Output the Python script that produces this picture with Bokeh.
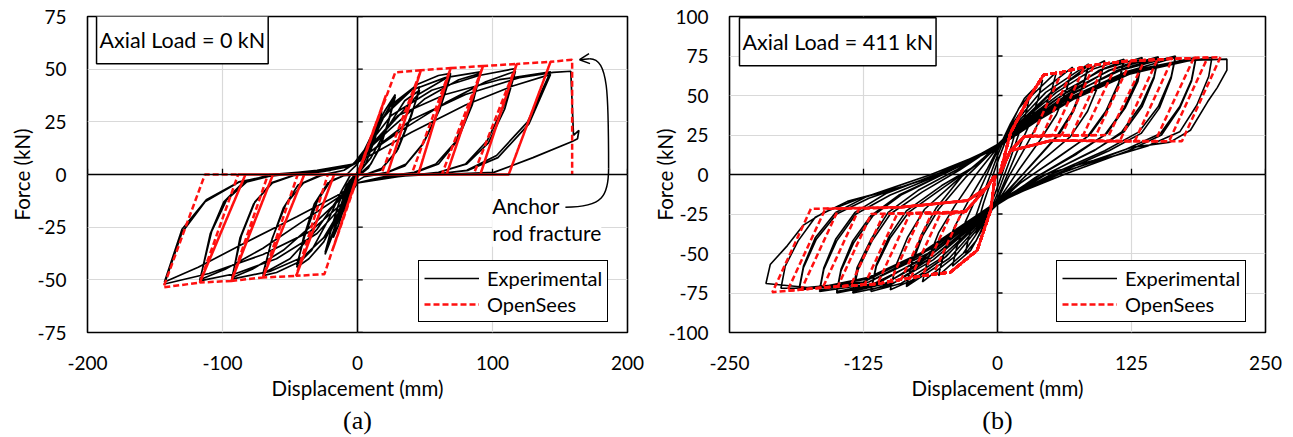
from bokeh.plotting import figure
from bokeh.models import (Range1d, FixedTicker, Span, Legend, LegendItem, Label,
                          Title, Arrow, OpenHead)
from bokeh.layouts import row
from bokeh.embed import file_html
from bokeh.resources import INLINE

FONT = "Lato"
RED = "#ff1010"

# ------------------------------------------------------------------ panel (a)
a_x_ticks = [-200, -100, 0, 100, 200]
a_y_ticks = [-75, -50, -25, 0, 25, 50, 75]

# experimental hysteresis, axial load 0 kN (displacement mm, force kN)
exp_a_pts = [
    (0, 0), (6, 10), (12, 20), (8, 11), (2, 2), (-4, -6), (-10, -18), (-7, -10), (-1, -1), (5, 8), (14, 24), (18, 30),
    (13, 17), (6, 5), (0, 0), (-6, -8), (-14, -24), (-18, -30), (-13, -17), (-6, -5), (0, 0),
    (10, 18), (20, 30), (28, 38), (24, 28), (18, 15), (10, 5), (3, 1), (-3, -1), (-10, -15), (-18, -28), (-24, -38),
    (-20, -27), (-14, -14), (-8, -5), (-2, 0),
    (2, 1), (10, 14), (20, 28), (28, 37), (23, 25), (16, 12), (8, 3), (2, 0), (-2, -1), (-10, -13), (-18, -27), (-24, -37),
    (-19, -25), (-13, -12), (-6, -3), (-1, 0),
    (8, 12), (18, 26), (30, 35), (40, 40), (46, 41.6), (40, 28), (30, 12), (18, 3), (6, 0), (-2, 0), (-8, -6), (-15, -20),
    (-25, -32), (-36, -40), (-45, -44), (-40, -30), (-32, -14), (-22, -4), (-10, -0.5),
    (0, 0), (10, 8), (22, 22), (35, 35), (46, 40), (39, 27), (29, 11), (17, 2), (5, 0), (-5, 0), (-12, -8), (-22, -22),
    (-34, -36), (-45, -43), (-39, -29), (-30, -13), (-20, -3), (-8, 0),
    (0, 5), (10, 18), (25, 33), (45, 43), (60, 47), (69, 48), (60, 30), (48, 14), (35, 4), (20, 0.5), (5, -1), (-5, -5),
    (-12, -16), (-25, -30), (-45, -42), (-60, -46.5), (-70, -48), (-64, -32), (-55, -16), (-44, -5), (-30, -1), (-10, 2),
    (0, 6), (10, 13), (25, 24), (45, 38), (69, 47), (61, 31), (49, 15), (36, 5), (22, 1), (5, -1), (-5, -5), (-15, -12),
    (-30, -26), (-50, -40), (-70, -47), (-63, -30), (-53, -14), (-40, -4), (-25, 0), (-10, 2),
    (-3, 5), (8, 14), (20, 28), (40, 40), (65, 46), (91, 48.7), (84, 32), (72, 15), (58, 5), (42, 1), (20, -1), (0, -4),
    (-8, -12), (-20, -27), (-40, -39), (-65, -46), (-93, -49.7), (-87, -30), (-77, -14), (-64, -4), (-48, -0.5),
    (-25, 1.5), (-5, 4),
    (8, 12), (25, 22), (50, 36), (75, 45), (91, 48), (85, 33), (74, 16), (60, 5), (43, 1), (20, -1), (0, -4), (-10, -10),
    (-30, -22), (-55, -36), (-78, -45), (-93, -49), (-86, -29), (-76, -13), (-63, -4), (-45, 0), (-20, 2), (-3, 5),
    (8, 14), (25, 28), (55, 40), (90, 47), (117, 50.3), (108, 32), (96, 16), (80, 5), (60, 1), (30, -1), (0, -4),
    (-10, -14), (-30, -28), (-60, -40), (-90, -47), (-116.8, -50.5), (-109, -28), (-99, -13), (-85, -4), (-65, 0),
    (-35, 1.5), (-5, 4),
    (10, 11), (35, 22), (65, 34), (95, 44), (117, 49), (109, 31), (97, 15), (81, 5), (60, 1), (30, -1), (0, -4),
    (-12, -10), (-40, -22), (-70, -35), (-98, -45), (-116.8, -50), (-108, -27), (-97, -12), (-82, -3.5), (-60, 0),
    (-30, 2), (-3, 5),
    (10, 14), (30, 28), (65, 38), (105, 45), (143, 48.7), (126, 25), (103, 9), (81, 2), (55, 0), (20, -1), (0, -4),
    (-10, -13), (-35, -27), (-70, -38), (-110, -47), (-143, -52), (-130, -27.5), (-113, -13), (-88, -3.7), (-71, -1.3),
    (-40, 1), (-5, 4),
    (12, 10), (40, 20), (80, 33), (115, 42), (143, 47.5), (127, 24), (104, 8), (82, 2), (55, 0), (25, -1), (0, -4),
    (-15, -10), (-45, -20), (-85, -33), (-118, -44), (-143, -51), (-130, -26), (-112, -12), (-88, -3.5), (-60, 0),
    (-30, 2), (-3, 5),
    (12, 12), (40, 26), (80, 38), (120, 46), (145, 48.5), (158, 49), (160, 18.6), (164, 21), (163, 17), (159, 15.7),
    (130, 8), (101, 1), (60, 0), (0, 0),
]

# OpenSees model, axial load 0 kN
ops_a_pts = [
    (0, 0), (14, 25), (-12, -23), (21, 37.5), (-18, -35), (0, 0),
    (28, 48.5), (47, 49.5), (17.5, 0), (0, 0), (-24.5, -47.3), (-45.4, -48.1), (-22, 0), (22, 0), (47, 49.5), (22, 0),
    (-17.3, 0), (-45.4, -48.1), (-17.3, 0),
    (22, 0), (47, 49.5), (69, 50.5), (40, 0), (-17.3, 0), (-45.4, -48.1), (-70, -48.9), (-44.3, 0), (45, 0), (69, 50.5),
    (45, 0), (-39.4, 0), (-70, -48.9), (-39.4, 0),
    (45, 0), (69, 50.5), (93, 51.5), (62.5, 0), (-39.4, 0), (-70, -48.9), (-93.4, -50.5), (-66.3, 0), (66, 0), (93, 51.5),
    (66, 0), (-62.6, 0), (-93.4, -50.5), (-62.6, 0),
    (66, 0), (93, 51.5), (118, 52.5), (86, 0), (-62.6, 0), (-93.4, -50.5), (-116.8, -51.3), (-88.4, 0), (91, 0),
    (118, 52.5), (91, 0), (-83, 0), (-116.8, -51.3), (-83, 0),
    (91, 0), (118, 52.5), (143, 53.5), (112, 0), (-83, 0), (-116.8, -51.3), (-143.8, -53.6), (-113, 0), (112, 0),
    (143, 53.5), (159, 54.5), (159, 0),
]

# leader of the "Anchor rod fracture" note (data coordinates)
note_curve_1 = [(154, -15.5), (186, 3), (182, -15.5), (186, -10)]   # start, end, ctrl0, ctrl1
note_curve_2 = [(186, 3), (172, 55), (186, 38), (186, 55)]
note_arrow = [(172, 55), (164.5, 54.5)]

# ------------------------------------------------------------------ panel (b)
b_x_ticks = [-250, -125, 0, 125, 250]
b_y_ticks = [-100, -75, -50, -25, 0, 25, 50, 75, 100]

exp_b_pts = [
    (0, 8), (8, 22), (15, 32), (20, 38), (18, 30), (13, 18), (7, 6), (0, -8), (-8, -22), (-15, -32), (-20, -38),
    (-18, -30), (-13, -18), (-7, -6), (0, 8),
    (0, 12), (10, 28), (20, 42), (30, 50), (27, 40), (20, 26), (12, 10), (0, -12), (-10, -28), (-20, -42), (-30, -50),
    (-27, -40), (-20, -26), (-12, -10), (0, 12),
    (0, 15), (12, 32), (25, 48), (42, 60), (38, 48), (30, 32), (18, 14), (0, -15), (-12, -32), (-25, -48), (-42, -58),
    (-38, -46), (-30, -30), (-18, -12), (0, 15),
    (0, 16), (15, 33), (32, 50), (55, 65), (50, 52), (40, 35), (25, 16), (10, -2), (0, -16), (-15, -33), (-32, -50),
    (-55, -64), (-50, -50), (-40, -33), (-25, -14), (-10, 3), (0, 16),
    (0, 17), (18, 34), (40, 52), (70, 68), (65, 55), (55, 38), (40, 22), (20, 3), (0, -17), (-18, -34), (-40, -52),
    (-70, -68), (-65, -54), (-55, -37), (-40, -20), (-20, 0), (0, 17),
    (0, 18), (20, 34), (45, 52), (85, 70), (80, 57), (70, 40), (55, 24), (30, 5), (0, -18), (-20, -34), (-45, -53),
    (-85, -71), (-80, -57), (-70, -39), (-55, -22), (-30, -2), (0, 18),
    (0, 17), (22, 33), (48, 50), (85, 69), (80, 56), (71, 40), (57, 25), (33, 7), (0, -17), (-22, -33), (-48, -52),
    (-85, -70), (-80, -56), (-71, -38), (-57, -21), (-33, -1), (0, 17),
    (0, 18), (22, 34), (50, 52), (80, 65), (100, 72), (95, 58), (84, 40), (68, 24), (40, 8), (0, -18), (-22, -34),
    (-50, -53), (-80, -67), (-100, -73), (-95, -58), (-84, -40), (-68, -22), (-40, -5), (0, 18),
    (0, 19), (25, 35), (55, 52), (90, 67), (118, 73), (113, 58), (101, 40), (84, 24), (50, 8), (20, -6), (0, -19),
    (-25, -35), (-55, -54), (-90, -69), (-118, -74), (-113, -58), (-100, -40), (-83, -24), (-50, -8), (-20, 6), (0, 19),
    (0, 18), (28, 34), (60, 50), (95, 66), (118, 72), (113, 57), (102, 40), (86, 25), (55, 10), (22, -5), (0, -18),
    (-28, -34), (-60, -52), (-95, -68), (-118, -73), (-113, -57), (-101, -39), (-85, -23), (-52, -7), (-22, 5), (0, 18),
    (0, 19), (27, 35), (60, 52), (100, 67), (135, 74), (130, 60), (118, 42), (100, 25), (70, 12), (35, -2), (0, -19),
    (-27, -35), (-60, -54), (-100, -70), (-135, -75), (-130, -60), (-117, -42), (-100, -25), (-70, -11), (-35, 3), (0, 19),
    (0, 18), (30, 34), (66, 51), (104, 66), (135, 73), (131, 59), (119, 42), (102, 26), (74, 13), (38, -1), (0, -18),
    (-30, -34), (-66, -53), (-104, -69), (-135, -74), (-131, -59), (-118, -41), (-102, -24), (-74, -10), (-38, 3), (0, 18),
    (0, 19), (28, 35), (62, 51), (105, 66), (150, 74.5), (146, 62), (134, 44), (116, 27), (90, 15), (45, 0), (0, -19),
    (-28, -35), (-62, -53), (-105, -69), (-150, -75), (-146, -61), (-134, -43), (-116, -26), (-90, -13), (-45, 2), (0, 19),
    (0, 18), (32, 34), (70, 51), (112, 66), (150, 73.5), (146, 61), (135, 43), (118, 27), (92, 16), (48, 1), (0, -18),
    (-32, -34), (-70, -53), (-112, -69), (-150, -74), (-146, -60), (-135, -42), (-118, -26), (-92, -13), (-48, 1), (0, 18),
    (0, 18), (30, 34), (65, 50), (115, 66), (166, 75), (162, 62), (150, 43), (132, 27), (100, 15), (50, 0), (0, -18),
    (-30, -34), (-65, -52), (-115, -69), (-166, -74), (-162, -60), (-150, -42), (-132, -25), (-100, -13), (-50, 1), (0, 18),
    (0, 17), (34, 33), (72, 49), (120, 65), (166, 74), (162, 61), (151, 42), (134, 26), (104, 15), (54, 0), (0, -17),
    (-34, -33), (-72, -51), (-120, -68), (-166, -73), (-162, -59), (-151, -41), (-133, -24), (-104, -12), (-54, 1), (0, 17),
    (0, 18), (30, 33), (65, 48), (120, 65), (185, 74), (181, 60), (170, 43), (152, 26), (120, 16), (60, 1), (0, -18),
    (-30, -33), (-65, -50), (-120, -68), (-185, -73), (-181, -59), (-169, -41), (-150, -25), (-120, -15), (-60, -1), (0, 18),
    (0, 17), (35, 33), (72, 48), (125, 64), (185, 73), (181, 59), (170, 42), (153, 25), (122, 15), (62, 0), (0, -17),
    (-35, -33), (-72, -50), (-125, -68), (-185, -72), (-181, -58), (-170, -40), (-151, -24), (-122, -14), (-62, 0), (0, 17),
    (0, 17), (30, 32), (62, 46), (120, 63), (170, 71), (200, 74), (197, 62), (186, 44), (170, 27), (140, 18), (90, 8),
    (45, -2), (0, -17), (-30, -32), (-62, -47), (-120, -66), (-170, -72), (-202, -72), (-198, -58), (-186, -42),
    (-170, -27), (-140, -17), (-90, -8), (-45, 2), (0, 17),
    (0, 17), (30, 32), (60, 46), (120, 64), (170, 72), (214, 73), (214, 66), (205, 55), (196, 46), (180, 28),
    (161, 20.5), (124, 17), (90, 9), (44, 0), (0, -17), (-30, -32), (-60, -46), (-120, -65), (-170, -72), (-216, -69),
    (-212, -57), (-196, -45), (-181, -32), (-162, -24), (-128, -15), (-90, -8), (-44, 3), (0, 17),
]

# OpenSees model, axial load 411 kN (flag-shaped response)
ops_b_load_pos = [(2, 0), (12, 26), (28, 47)]
ops_b_env_pos = [(43, 63), (60, 64.8), (87, 69), (118, 71.7), (161, 73.2), (208, 74.3)]
ops_b_peak_pos_x = [60, 70, 81, 90, 100, 112, 124, 137, 149, 163, 183, 196, 208]
ops_b_peak_pos_y = [64.8, 66.5, 68, 69.1, 70, 71, 71.4, 72, 72.5, 73, 73.6, 74, 74.3]
ops_b_knee_pos_x = [33, 42, 52, 60, 69, 80, 92, 104, 114, 128, 147, 160, 172]
ops_b_knee_pos_y = [25, 25, 25, 25, 25, 25, 25, 25, 21, 21, 21, 21, 21]
ops_b_ret_pos_hi = [(25, 24), (12, 15), (2, 0)]
ops_b_ret_pos_lo = [(50, 21.5), (12, 15), (2, 0)]

ops_b_load_neg = [(-2, 0), (-6.5, -23), (-19, -48)]
ops_b_env_neg = [(-43.8, -61.8), (-68.7, -63.9), (-112, -69.2), (-159, -71.3), (-210, -74.5)]
ops_b_peak_neg_x = [-60, -70, -81, -90, -100, -112, -124, -137, -149, -163, -183, -196, -210]
ops_b_peak_neg_y = [-63.2, -64, -65.5, -66.7, -67.8, -69.2, -69.7, -70.3, -70.9, -71.6, -72.9, -73.7, -74.5]
ops_b_knee_neg_x = [-34, -43.5, -53.4, -61.6, -70.9, -81.9, -93.6, -106.2, -117.8, -129.1, -148.2, -160.6, -174.1]
ops_b_knee_neg_y = [-25, -25, -25, -25, -25, -25, -25, -25, -25, -21.7, -21.7, -21.7, -21.7]
ops_b_ret_neg_hi = [(-30, -23.5), (-9.6, -8), (-2, 0)]
ops_b_ret_neg_lo = [(-90, -20.7), (-28, -16.5), (-9.6, -8), (-2, 0)]


# ------------------------------------------------------------------ helpers
def unzip(pts):
    return [p[0] for p in pts], [p[1] for p in pts]


def base_figure(width, xr, yr, xt, yt, border_left, border_right, ylab_standoff):
    p = figure(width=width, height=437, x_range=Range1d(*xr), y_range=Range1d(*yr),
               output_backend="svg", toolbar_location=None, title=None,
               min_border_left=border_left, min_border_right=border_right,
               min_border_top=16, min_border_bottom=105)
    p.background_fill_color = "white"
    p.border_fill_color = "white"
    p.outline_line_color = "black"
    p.outline_line_width = 1.6
    p.outline_line_alpha = 1.0
    p.xaxis.ticker = FixedTicker(ticks=xt)
    p.yaxis.ticker = FixedTicker(ticks=yt)
    p.xaxis.major_label_overrides = {t: str(t) for t in xt}
    p.yaxis.major_label_overrides = {t: str(t) for t in yt}
    for ax in (p.xaxis[0], p.yaxis[0]):
        ax.axis_line_color = None
        ax.major_tick_line_color = None
        ax.minor_tick_line_color = None
        ax.major_tick_out = 0
        ax.major_tick_in = 0
        ax.minor_tick_out = 0
        ax.major_label_text_font = FONT
        ax.major_label_text_font_size = "19px"
        ax.major_label_text_color = "black"
        ax.axis_label_text_font = FONT
        ax.axis_label_text_font_size = "20.5px"
        ax.axis_label_text_font_style = "normal"
        ax.axis_label_text_color = "black"
    p.xaxis.axis_label = "Displacement (mm)"
    p.yaxis.axis_label = "Force (kN)"
    p.yaxis.axis_label_text_line_height = 1.0
    p.xaxis.major_label_standoff = 23
    p.xaxis.axis_label_standoff = 3
    p.yaxis.major_label_standoff = 21
    p.yaxis.axis_label_standoff = ylab_standoff
    p.grid.grid_line_color = "#d9d9d9"
    p.grid.grid_line_width = 1.2
    # zero axes with small ticks (Excel style)
    p.add_layout(Span(location=0, dimension="width", line_color="black", line_width=1.6))
    p.add_layout(Span(location=0, dimension="height", line_color="black", line_width=1.6))
    return p


def zero_ticks(p, xt, yt, xlen, ylen):
    p.segment(x0=xt, y0=[0] * len(xt), x1=xt, y1=[ylen] * len(xt), line_color="black", line_width=1.3)
    p.segment(x0=[0] * len(yt), y0=yt, x1=[xlen] * len(yt), y1=yt, line_color="black", line_width=1.3)


def add_legend(p, r_exp, r_ops, loc):
    leg = Legend(items=[LegendItem(label="Experimental", renderers=[r_exp]),
                        LegendItem(label="OpenSees", renderers=[r_ops])],
                 location=loc, margin=0, padding=5, spacing=2,
                 glyph_width=55, glyph_height=20, label_height=20, label_standoff=8,
                 label_text_font=FONT, label_text_font_size="20px", label_text_color="black",
                 border_line_color="black", border_line_width=1.5, border_line_alpha=1.0,
                 background_fill_color="white", background_fill_alpha=1.0)
    p.add_layout(leg)


def add_caption(p, text):
    p.add_layout(Title(text=text, align="center", text_font="Liberation Serif",
                       text_font_size="26px", text_font_style="normal", text_color="black",
                       standoff=3), "below")


def add_box_label(p, x, y, text):
    p.add_layout(Label(x=x, y=y, text=text, text_font=FONT, text_font_size="21.5px",
                       text_color="black", text_baseline="middle", text_align="left",
                       border_line_color="black", border_line_width=1.5,
                       background_fill_color="white", padding=(3, 11)))


# ------------------------------------------------------------------ figure (a)
pa = base_figure(646, (-200, 200), (-75, 75), a_x_ticks, a_y_ticks, 87, 19, 0)
zero_ticks(pa, a_x_ticks, a_y_ticks, 3.9, 2.7)

ex, ey = unzip(exp_a_pts)
r_exp_a = pa.line(ex, ey, line_color="black", line_width=1.7)
ox, oy = unzip(ops_a_pts)
r_ops_a = pa.line(ox, oy, line_color=RED, line_width=2.5, line_dash="6 3")

add_legend(pa, r_exp_a, r_ops_a, (331, 10))
add_box_label(pa, -193.3, 64, "Axial Load = 0 kN")

pa.bezier(x0=[note_curve_1[0][0]], y0=[note_curve_1[0][1]], x1=[note_curve_1[1][0]], y1=[note_curve_1[1][1]],
          cx0=[note_curve_1[2][0]], cy0=[note_curve_1[2][1]], cx1=[note_curve_1[3][0]], cy1=[note_curve_1[3][1]],
          line_color="black", line_width=1.5)
pa.bezier(x0=[note_curve_2[0][0]], y0=[note_curve_2[0][1]], x1=[note_curve_2[1][0]], y1=[note_curve_2[1][1]],
          cx0=[note_curve_2[2][0]], cy0=[note_curve_2[2][1]], cx1=[note_curve_2[3][0]], cy1=[note_curve_2[3][1]],
          line_color="black", line_width=1.5)
pa.add_layout(Arrow(end=OpenHead(size=10, line_width=1.5, line_color="black"),
                    x_start=note_arrow[0][0], y_start=note_arrow[0][1],
                    x_end=note_arrow[1][0], y_end=note_arrow[1][1],
                    line_color="black", line_width=1.5))
for txt, yy in (("Anchor", -14.7), ("rod fracture", -27.4)):
    pa.add_layout(Label(x=99.8, y=yy, text=txt, text_font=FONT, text_font_size="21px",
                        text_color="black", text_baseline="middle", text_align="left",
                        background_fill_color="white", padding=(0, 2)))
add_caption(pa, "(a)")

# ------------------------------------------------------------------ figure (b)
pb = base_figure(647, (-250, 250), (-100, 100), b_x_ticks, b_y_ticks, 83, 28, -12)
zero_ticks(pb, b_x_ticks, b_y_ticks, 4.7, 3.6)

bx, by = unzip(exp_b_pts)
r_exp_b = pb.line(bx, by, line_color="black", line_width=1.6)

ops_xs, ops_ys = [], []
for i in range(len(ops_b_peak_pos_x)):
    # positive half-cycle
    pts = list(ops_b_load_pos) + [e for e in ops_b_env_pos if e[0] < ops_b_peak_pos_x[i]]
    pts += [(ops_b_peak_pos_x[i], ops_b_peak_pos_y[i]), (ops_b_knee_pos_x[i], ops_b_knee_pos_y[i])]
    pts += ops_b_ret_pos_hi if ops_b_knee_pos_y[i] >= 24 else ops_b_ret_pos_lo
    xs, ys = unzip(pts)
    ops_xs.append(xs)
    ops_ys.append(ys)
    # negative half-cycle
    pts = list(ops_b_load_neg) + [e for e in ops_b_env_neg if e[0] > ops_b_peak_neg_x[i]]
    pts += [(ops_b_peak_neg_x[i], ops_b_peak_neg_y[i]), (ops_b_knee_neg_x[i], ops_b_knee_neg_y[i])]
    pts += ops_b_ret_neg_hi if ops_b_knee_neg_y[i] <= -24 else ops_b_ret_neg_lo
    xs, ys = unzip(pts)
    ops_xs.append(xs)
    ops_ys.append(ys)

r_ops_b = pb.multi_line(ops_xs, ops_ys, line_color=RED, line_width=2.5, line_dash="6 3")
# heavily over-plotted branches near the origin read as solid red
for seg in (ops_b_load_pos + ops_b_env_pos[:1], ops_b_ret_pos_lo,
            ops_b_load_neg + ops_b_env_neg[:1], ops_b_ret_neg_lo):
    sx, sy = unzip(seg)
    pb.line(sx, sy, line_color=RED, line_width=2.8)

add_legend(pb, r_exp_b, r_ops_b, (327, 10))
add_box_label(pb, -240.7, 84, "Axial Load = 411 kN")
add_caption(pb, "(b)")

layout = row(pa, pb)
open("out.html", "w").write(file_html(layout, INLINE, title="Hysteresis"))
